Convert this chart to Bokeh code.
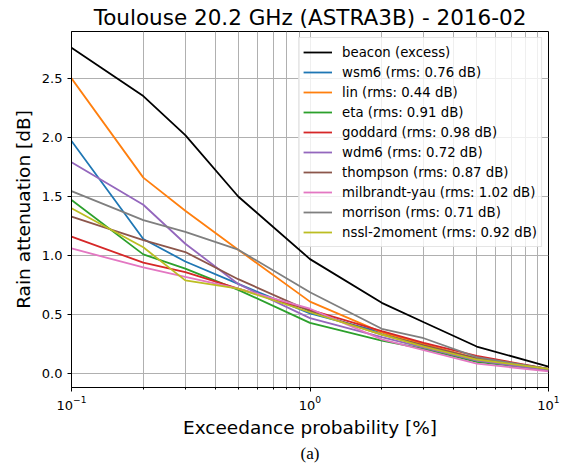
from bokeh.plotting import figure
from bokeh.models import FixedTicker, LogTickFormatter, PrintfTickFormatter, Title, Range1d
from bokeh.embed import file_html
from bokeh.resources import INLINE

prob = [0.1, 0.2, 0.3, 0.5, 1, 2, 3, 5, 10]
beacon = [2.76, 2.35, 2.02, 1.50, 0.97, 0.60, 0.435, 0.23, 0.06]
wsm6 = [1.97, 1.14, 0.95, 0.76, 0.51, 0.35, 0.24, 0.12, 0.04]
lin = [2.50, 1.66, 1.38, 1.05, 0.61, 0.35, 0.25, 0.13, 0.04]
eta = [1.47, 1.01, 0.89, 0.71, 0.43, 0.28, 0.21, 0.10, 0.03]
goddard = [1.16, 0.94, 0.86, 0.72, 0.54, 0.36, 0.26, 0.15, 0.04]
wdm6 = [1.79, 1.43, 1.10, 0.76, 0.47, 0.31, 0.22, 0.11, 0.03]
thompson = [1.33, 1.13, 1.03, 0.80, 0.53, 0.33, 0.24, 0.13, 0.04]
milbrandt = [1.06, 0.90, 0.82, 0.72, 0.55, 0.29, 0.20, 0.085, 0.02]
morrison = [1.545, 1.30, 1.20, 1.05, 0.69, 0.38, 0.30, 0.14, 0.04]
nssl = [1.40, 1.07, 0.79, 0.72, 0.52, 0.33, 0.23, 0.12, 0.04]

series = [
    ("beacon (excess)", beacon, "black"),
    ("wsm6 (rms: 0.76 dB)", wsm6, "#1f77b4"),
    ("lin (rms: 0.44 dB)", lin, "#ff7f0e"),
    ("eta (rms: 0.91 dB)", eta, "#2ca02c"),
    ("goddard (rms: 0.98 dB)", goddard, "#d62728"),
    ("wdm6 (rms: 0.72 dB)", wdm6, "#9467bd"),
    ("thompson (rms: 0.87 dB)", thompson, "#8c564b"),
    ("milbrandt-yau (rms: 1.02 dB)", milbrandt, "#e377c2"),
    ("morrison (rms: 0.71 dB)", morrison, "#7f7f7f"),
    ("nssl-2moment (rms: 0.92 dB)", nssl, "#bcbd22"),
]

x_major = [0.1, 1, 10]
x_minor = [0.2, 0.3, 0.4, 0.5, 0.6, 0.7, 0.8, 0.9, 2, 3, 4, 5, 6, 7, 8, 9]
y_ticks = [0.0, 0.5, 1.0, 1.5, 2.0, 2.5]

FONT = "DejaVu Sans"

p = figure(
    x_axis_type="log",
    frame_width=477, frame_height=356,
    min_border_left=71, min_border_right=20, min_border_top=31, min_border_bottom=77,
    x_range=Range1d(0.1, 10), y_range=Range1d(-0.117, 2.897),
    output_backend="svg", toolbar_location=None,
    title="Toulouse 20.2 GHz (ASTRA3B) - 2016-02",
)
p.title.text_font = FONT
p.title.text_font_size = "21.5px"
p.title.text_font_style = "normal"
p.title.align = "center"
p.title.standoff = 3
p.title.text_color = "black"

for label, vals, color in series:
    p.line(prob, vals, line_color=color, line_width=1.8, legend_label=label)

p.outline_line_color = "black"
p.outline_line_width = 1
p.background_fill_color = "white"
p.border_fill_color = "white"

xa = p.xaxis[0]
xa.ticker = FixedTicker(ticks=x_major, minor_ticks=x_minor)
xa.formatter = LogTickFormatter()
xa.axis_label = "Exceedance probability [%]"
ya = p.yaxis[0]
ya.ticker = FixedTicker(ticks=y_ticks)
ya.formatter = PrintfTickFormatter(format="%.1f")
ya.axis_label = "Rain attenuation [dB]"
ya.minor_tick_line_color = None

for ax in (xa, ya):
    ax.axis_label_text_font = FONT
    ax.axis_label_text_font_size = "18.5px"
    ax.axis_label_text_font_style = "normal"
    ax.axis_label_text_color = "black"
    ax.major_label_text_font = FONT
    ax.major_label_text_font_size = "13px"
    ax.major_label_text_color = "black"
    ax.axis_line_color = "black"
    ax.major_tick_line_color = "black"
    ax.major_tick_in = 0
    ax.major_tick_out = 4
    ax.minor_tick_in = 0
    ax.minor_tick_out = 2
ya.major_label_standoff = 5
xa.major_label_standoff = 4
ya.axis_label_standoff = 5
xa.axis_label_standoff = 4

p.xgrid.grid_line_color = "#b0b0b0"
p.xgrid.grid_line_width = 1
p.xgrid.minor_grid_line_color = "#b0b0b0"
p.xgrid.minor_grid_line_width = 1
p.ygrid.grid_line_color = "#b0b0b0"
p.ygrid.grid_line_width = 1

lg = p.legend[0]
lg.location = "top_right"
lg.margin = 6
lg.padding = 4
lg.spacing = 0
lg.label_height = 20
lg.glyph_height = 20
lg.glyph_width = 29
lg.label_standoff = 10
lg.label_text_font = FONT
lg.label_text_font_size = "13.3px"
lg.label_text_color = "black"
lg.border_line_color = "#cccccc"
lg.border_line_width = 1
lg.background_fill_color = "white"
lg.background_fill_alpha = 0.8

sub = Title(text="(a)", align="center", text_font="Liberation Serif",
            text_font_size="17px", text_font_style="normal", text_color="black", standoff=2)
p.add_layout(sub, "below")

open("out.html", "w").write(file_html(p, INLINE))
